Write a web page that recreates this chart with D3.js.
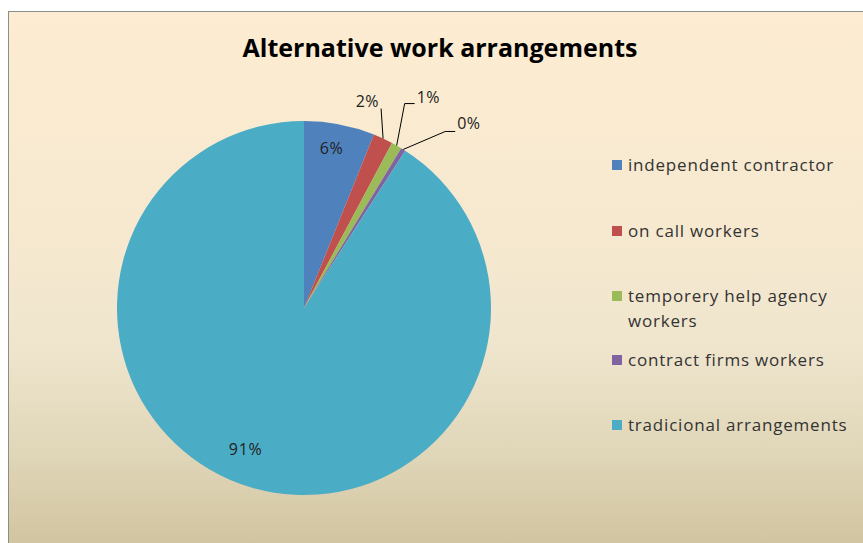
<!DOCTYPE html>
<html>
<head>
<meta charset="utf-8">
<script src="https://cdn.jsdelivr.net/npm/d3@7"></script>
<style>
body { margin: 0; background: #fff; }
text { font-family: "Open Sans", "DejaVu Sans", sans-serif; }
</style>
</head>
<body>
<svg id="svg"></svg>
<script>
var width = 863, height = 543;

// data
var categories = ["independent contractor", "on call workers", "temporery help agency workers", "contract firms workers", "tradicional arrangements"];
var values = [6.1, 1.7, 0.9, 0.4, 90.9];
var labels = ["6%", "2%", "1%", "0%", "91%"];
var colors = ["#4f81bd", "#c0504d", "#9bbb59", "#8064a2", "#4bacc6"];

var svg = d3.select("#svg")
	.attr("width", width)
	.attr("height", height);

var defs = svg.append("defs");
var grad = defs.append("linearGradient")
	.attr("id", "bg")
	.attr("x1", 0).attr("y1", 0)
	.attr("x2", 0).attr("y2", 1);
grad.append("stop").attr("offset", "0%").attr("stop-color", "#fdecd1");
grad.append("stop").attr("offset", "40%").attr("stop-color", "#f6e9d0");
grad.append("stop").attr("offset", "62%").attr("stop-color", "#efe5cd");
grad.append("stop").attr("offset", "81%").attr("stop-color", "#e0d7b9");
grad.append("stop").attr("offset", "100%").attr("stop-color", "#d0c29d");

svg.append("rect")
	.attr("x", 8.5)
	.attr("y", 11.5)
	.attr("width", width)
	.attr("height", height)
	.attr("fill", "url(#bg)")
	.attr("stroke", "#8c8c8c")
	.attr("stroke-width", 1);

svg.append("text")
	.attr("x", 440)
	.attr("y", 57)
	.attr("text-anchor", "middle")
	.attr("font-size", "25px")
	.attr("font-weight", "bold")
	.attr("fill", "#000")
	.text("Alternative work arrangements");

var cx = 304, cy = 308, radius = 187;

var pie = d3.pie().sort(null).value(function(d) { return d; });
var arcs = pie(values);

var arc = d3.arc().innerRadius(0).outerRadius(radius);
var rim = d3.arc().innerRadius(radius).outerRadius(radius);
var inner = d3.arc().innerRadius(radius * 0.86).outerRadius(radius * 0.86);

var g = svg.append("g").attr("transform", "translate(" + cx + "," + cy + ")");

g.selectAll("path.slice")
	.data(arcs)
	.enter()
	.append("path")
	.attr("class", "slice")
	.attr("d", arc)
	.attr("fill", function(d, i) { return colors[i]; });

// inside labels for big slices (small nudge like excel's placement)
var nudge = { 0: [-3, -2], 4: [-13, -13] };
arcs.forEach(function(d, i) {
	if (values[i] < 5) return;
	var c = inner.centroid(d);
	var n = nudge[i] || [0, 0];
	g.append("text")
		.attr("x", c[0] + n[0])
		.attr("y", c[1] + n[1])
		.attr("dy", "0.35em")
		.attr("text-anchor", "middle")
		.attr("font-size", "16px")
		.attr("letter-spacing", "0.8px")
		.attr("fill", "#222")
		.text(labels[i]);
});

// leader line labels for the thin slices: elbow offset from rim, then short tail
var leaders = {
	1: { elbow: [-2, -30], tail: 0, anchor: "end", lx: -2, ly: -2 },
	2: { elbow: [8, -42], tail: 10, anchor: "start", lx: 2, ly: -1 },
	3: { elbow: [42, -18], tail: 10, anchor: "start", lx: 2, ly: -2 }
};

arcs.forEach(function(d, i) {
	var L = leaders[i];
	if (!L) return;
	var p = rim.centroid(d);
	var e = [p[0] + L.elbow[0], p[1] + L.elbow[1]];
	var t = [e[0] + L.tail, e[1]];
	g.append("path")
		.attr("d", d3.line()([p, e, t]))
		.attr("fill", "none")
		.attr("stroke", "#000")
		.attr("stroke-width", 1);
	g.append("text")
		.attr("x", t[0] + L.lx)
		.attr("y", t[1] + L.ly)
		.attr("text-anchor", L.anchor)
		.attr("font-size", "16px")
		.attr("letter-spacing", "0.5px")
		.attr("fill", "#222")
		.text(labels[i]);
});

// legend
var legendY = [165, 231, 296, 360, 425];
var legend = svg.append("g").attr("transform", "translate(612,0)");

legend.selectAll("rect")
	.data(categories)
	.enter()
	.append("rect")
	.attr("x", 0)
	.attr("y", function(d, i) { return legendY[i] - 5; })
	.attr("width", 10)
	.attr("height", 10)
	.attr("fill", function(d, i) { return colors[i]; });

legend.selectAll("text")
	.data(categories)
	.enter()
	.append("text")
	.attr("x", 16)
	.attr("y", function(d, i) { return legendY[i]; })
	.attr("dy", "0.35em")
	.attr("font-size", "17px")
	.attr("letter-spacing", "0.8px")
	.attr("fill", "#333")
	.each(function(d) {
		var t = d3.select(this);
		if (d === "temporery help agency workers") {
			t.append("tspan").attr("x", 16).text("temporery help agency");
			t.append("tspan").attr("x", 16).attr("dy", "25").text("workers");
		} else {
			t.text(d);
		}
	});
</script>
</body>
</html>
